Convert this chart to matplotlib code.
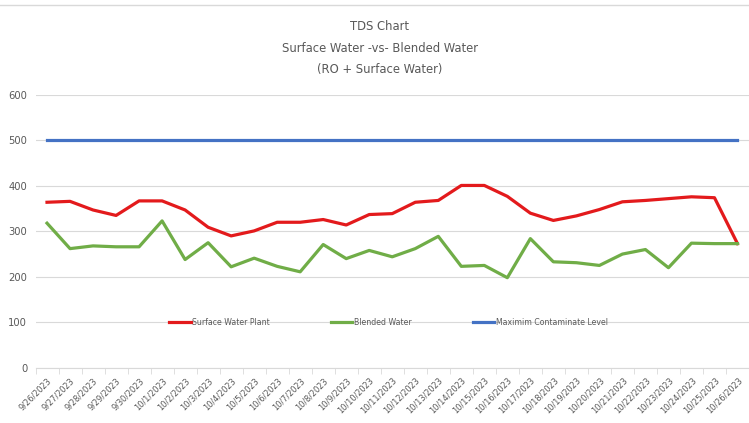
import matplotlib
matplotlib.use("Agg")
import matplotlib.pyplot as plt
from matplotlib.lines import Line2D
from matplotlib import font_manager

dates = ["9/26/2023", "9/27/2023", "9/28/2023", "9/29/2023", "9/30/2023",
         "10/1/2023", "10/2/2023", "10/3/2023", "10/4/2023", "10/5/2023",
         "10/6/2023", "10/7/2023", "10/8/2023", "10/9/2023", "10/10/2023",
         "10/11/2023", "10/12/2023", "10/13/2023", "10/14/2023", "10/15/2023",
         "10/16/2023", "10/17/2023", "10/18/2023", "10/19/2023", "10/20/2023",
         "10/21/2023", "10/22/2023", "10/23/2023", "10/24/2023", "10/25/2023",
         "10/26/2023"]
surface_water = [364, 366, 347, 335, 367, 367, 347, 309, 290, 301,
                 320, 320, 326, 314, 337, 339, 364, 368, 401, 401,
                 377, 340, 324, 334, 348, 365, 368, 372, 376, 374,
                 273]
blended_water = [318, 262, 268, 266, 266, 323, 238, 275, 222, 241,
                 223, 211, 271, 240, 258, 244, 262, 289, 223, 225,
                 198, 284, 233, 231, 225, 250, 260, 220, 274, 273,
                 273]
mcl = [500] * len(dates)
yticks = [0, 100, 200, 300, 400, 500, 600]

fl = font_manager.fontManager.ttflist
cond = [f.fname for f in fl if f.name == "DejaVu Sans" and f.stretch == "condensed" and f.weight in (400, "normal") and f.style == "normal"]
fprop = font_manager.FontProperties(fname=cond[0]) if cond else font_manager.FontProperties(family="DejaVu Sans")

def fp(size):
    p = fprop.copy()
    p.set_size(size)
    return p

txt = "#595959"
fig = plt.figure(figsize=(7.49, 4.23), dpi=100)
W, H = 749, 423
left, right, top, bottom = 35.5, 749, 95, 367.7
ax = fig.add_axes([left / W, 1 - bottom / H, (right - left) / W, (bottom - top) / H])

x = list(range(len(dates)))
ax.plot(x, surface_water, color="#E31A1C", lw=2.3, label="Surface Water Plant", solid_joinstyle="round")
ax.plot(x, blended_water, color="#70AD47", lw=2.3, label="Blended Water", solid_joinstyle="round")
ax.plot(x, mcl, color="#4472C4", lw=2.3, label="Maximim Contaminate Level")

ax.set_ylim(0, 600)
ax.set_xlim(-0.5, 30.39)
ax.set_yticks(yticks)
ax.set_yticklabels([str(v) for v in yticks], color=txt, fontproperties=fp(8))
ax.yaxis.grid(True, color="#D9D9D9", lw=0.8)
ax.set_axisbelow(True)
ax.tick_params(axis="y", length=0, pad=6)

ax.set_xticks(x)
ax.set_xticklabels(dates, rotation=45, ha="right", rotation_mode="anchor", color=txt, fontproperties=fp(6.6))
ax.set_xticks([i - 0.5 for i in range(len(dates) + 1)], minor=True)
ax.tick_params(axis="x", which="major", length=0, pad=6)
ax.tick_params(axis="x", which="minor", length=4, color="#D9D9D9")

for s in ["left", "right", "top"]:
    ax.spines[s].set_visible(False)
ax.spines["bottom"].set_color("#D9D9D9")

leg = ax.legend(loc="center", bbox_to_anchor=(0.4947, 100 / 600), ncol=3, frameon=False,
                prop=fp(6.2), handlelength=2.45, handletextpad=0.2, columnspacing=7.1,
                labelcolor=txt, borderaxespad=0, borderpad=0)

for yy, s in [(27, "TDS Chart"), (48, "Surface Water -vs- Blended Water"), (70, "(RO + Surface Water)")]:
    fig.text(380 / W, 1 - yy / H, s, ha="center", va="center", color=txt, fontproperties=fp(9.3))

fig.add_artist(Line2D([0, 1], [1 - 5 / H, 1 - 5 / H], color="#D9D9D9", lw=1, transform=fig.transFigure))

fig.savefig("out.png", dpi=100)
